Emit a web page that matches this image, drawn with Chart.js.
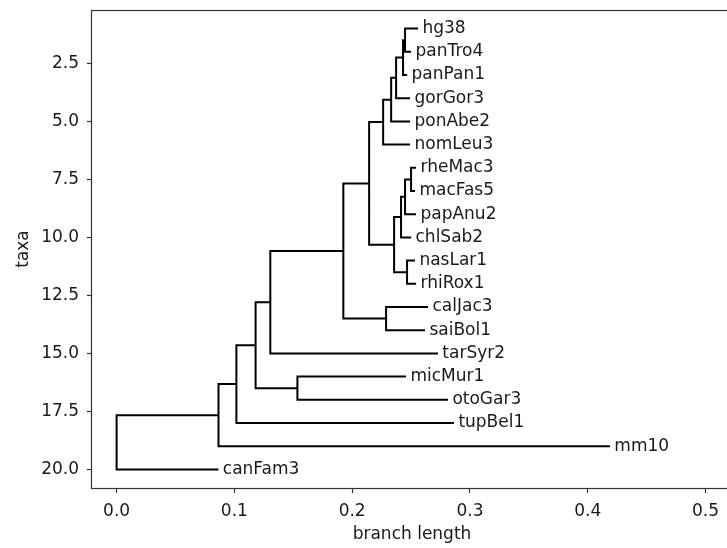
<!DOCTYPE html>
<html>
<head>
<meta charset="utf-8">
<script src="https://cdn.jsdelivr.net/npm/chart.js@4.4.1/dist/chart.umd.min.js"></script>
<style>
  html, body { margin: 0; padding: 0; background: #fff; overflow: hidden; }
  #wrap { width: 727px; height: 548px; overflow: hidden; }
</style>
</head>
<body>
<div id="wrap"><canvas id="tree" width="745" height="548"></canvas></div>
<script>
// leaves, top to bottom (y = 1..20)
const taxa = ['hg38', 'panTro4', 'panPan1', 'gorGor3', 'ponAbe2', 'nomLeu3',
  'rheMac3', 'macFas5', 'papAnu2', 'chlSab2', 'nasLar1', 'rhiRox1',
  'calJac3', 'saiBol1', 'tarSyr2', 'micMur1', 'otoGar3', 'tupBel1', 'mm10', 'canFam3'];
// distance from root of each leaf
const leafDepth = [0.2551, 0.2492, 0.2458, 0.2483, 0.2483, 0.2483,
  0.2534, 0.2525, 0.2534, 0.2492, 0.2525, 0.2534,
  0.2636, 0.2610, 0.2720, 0.2449, 0.2805, 0.2856, 0.4180, 0.0856];
// parent clade of each leaf
const leafParent = ['N', 'N', 'M', 'L', 'K', 'I', 'R', 'R', 'Q', 'P', 'S', 'S',
  'H', 'H', 'D', 'E', 'E', 'B', 'A', 'root'];

// inner clades
const cladeName   = ['root', 'A', 'B', 'C', 'E', 'D', 'F', 'H', 'G', 'I', 'K', 'L', 'M', 'N', 'J', 'P', 'Q', 'R', 'S'];
const cladeParent = [null, 'root', 'A', 'B', 'C', 'C', 'D', 'F', 'F', 'G', 'I', 'K', 'L', 'M', 'G', 'J', 'P', 'Q', 'J'];
const cladeDepth  = [0, 0.0865, 0.1017, 0.1180, 0.1535, 0.1305, 0.1925, 0.2288, 0.2144,
  0.2263, 0.2331, 0.2373, 0.2432, 0.2449, 0.2356, 0.2415, 0.2449, 0.2500, 0.2466];

const xTicks = [0, 0.1, 0.2, 0.3, 0.4, 0.5];
const yTicks = [2.5, 5, 7.5, 10, 12.5, 15, 17.5, 20];

// build node table
const nodes = {};
cladeName.forEach((n, i) => { nodes[n] = { x: cladeDepth[i], parent: cladeParent[i], kids: [] }; });
taxa.forEach((n, i) => { nodes[n] = { x: leafDepth[i], parent: leafParent[i], kids: [], y: i + 1 }; });
Object.keys(nodes).forEach(n => { if (nodes[n].parent) nodes[nodes[n].parent].kids.push(n); });

function yOf(n) {
  const nd = nodes[n];
  if (nd.y === undefined) {
    const ys = nd.kids.map(yOf);
    nd.y = (Math.min(...ys) + Math.max(...ys)) / 2;
  }
  return nd.y;
}
yOf('root');

// segments: horizontal from parent to node, vertical across children
const segs = [];
const gap = { x: NaN, y: NaN };
Object.keys(nodes).forEach(n => {
  const nd = nodes[n];
  if (nd.parent) {
    segs.push({ x: nodes[nd.parent].x, y: nd.y }, { x: nd.x, y: nd.y }, gap);
  }
  if (nd.kids.length) {
    const ys = nd.kids.map(k => nodes[k].y);
    segs.push({ x: nd.x, y: Math.min(...ys) }, { x: nd.x, y: Math.max(...ys) }, gap);
  }
});

const FONT = 'DejaVu Sans';
const TXT = '#1a1a1a';

const treeLabels = {
  id: 'treeLabels',
  afterDatasetsDraw(chart) {
    const { ctx, scales: { x, y }, chartArea: a } = chart;
    ctx.save();
    ctx.font = '17px "' + FONT + '"';
    ctx.fillStyle = TXT;
    ctx.textBaseline = 'middle';
    ctx.textAlign = 'left';
    taxa.forEach((t, i) => {
      ctx.fillText(' ' + t, x.getPixelForValue(leafDepth[i]), y.getPixelForValue(i + 1));
    });
    // frame
    ctx.strokeStyle = '#333';
    ctx.lineWidth = 1.2;
    ctx.strokeRect(Math.round(a.left) - 0.5, Math.round(a.top) + 0.5,
      Math.round(a.right - a.left) + 1, Math.round(a.bottom - a.top));
    ctx.restore();
  }
};

new Chart(document.getElementById('tree'), {
  type: 'scatter',
  data: {
    datasets: [{
      data: segs,
      showLine: true,
      spanGaps: false,
      borderColor: '#000',
      borderWidth: 2,
      borderCapStyle: 'square',
      pointRadius: 0,
      pointHoverRadius: 0
    }]
  },
  options: {
    responsive: false,
    animation: false,
    devicePixelRatio: 1,
    layout: { padding: { top: 10, right: 13, left: 0, bottom: 0 } },
    plugins: { legend: { display: false }, tooltip: { enabled: false } },
    scales: {
      x: {
        type: 'linear',
        min: -0.0209,
        max: 0.5225,
        afterBuildTicks: s => { s.ticks = xTicks.map(v => ({ value: v })); },
        afterFit: s => { s.height = 60; s.paddingLeft = 0; s.paddingRight = 0; },
        ticks: { callback: v => v.toFixed(1), color: TXT, font: { family: FONT, size: 17 }, padding: 8, maxRotation: 0 },
        grid: { drawOnChartArea: false, drawTicks: true, tickLength: 5, tickColor: '#333', tickWidth: 1.2 },
        border: { display: false },
        title: { display: true, text: 'branch length', color: TXT, font: { family: FONT, size: 17 }, padding: { top: 0, bottom: 3 } }
      },
      y: {
        type: 'linear',
        reverse: true,
        min: 0.2,
        max: 20.8,
        afterBuildTicks: s => { s.ticks = yTicks.map(v => ({ value: v })); },
        afterFit: s => { s.width = 92; s.paddingTop = 0; s.paddingBottom = 0; },
        ticks: { callback: v => v.toFixed(1), color: TXT, font: { family: FONT, size: 17 }, padding: 8 },
        grid: { drawOnChartArea: false, drawTicks: true, tickLength: 5, tickColor: '#333', tickWidth: 1.2 },
        border: { display: false },
        title: { display: true, text: 'taxa', color: TXT, font: { family: FONT, size: 17 }, padding: { top: 13, bottom: 0 } }
      }
    }
  },
  plugins: [treeLabels]
});
</script>
</body>
</html>
